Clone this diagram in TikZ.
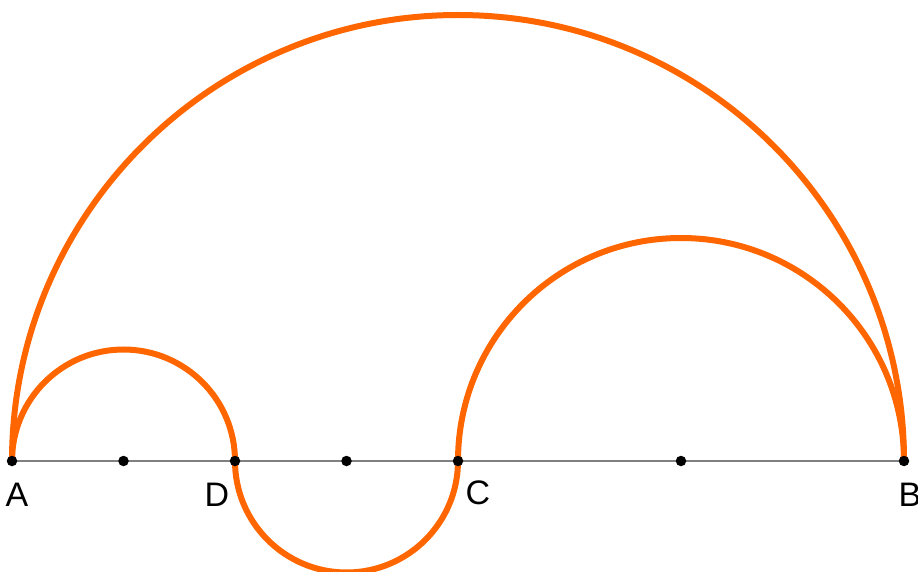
\documentclass[tikz,border=0pt]{standalone}
\usepackage{fontspec}
\setmainfont{Liberation Sans}
\definecolor{arcorange}{HTML}{FF6600}
\definecolor{linegray}{HTML}{808080}
\begin{document}
\begin{tikzpicture}[x=1pt,y=1pt,
  arcline/.style={draw=arcorange,line width=6pt},
  baseline/.style={draw=linegray,line width=2pt},
  ptdot/.style={circle,fill=black,inner sep=0pt,minimum size=10.5pt},
  lbl/.style={font=\fontsize{34}{34}\selectfont,inner sep=0pt}]
\useasboundingbox (0,0) rectangle (918,571);
\coordinate (A) at (12,110);
\coordinate (M1) at (123.5,110);
\coordinate (D) at (235,110);
\coordinate (M2) at (346.5,110);
\coordinate (C) at (458,110);
\coordinate (M3) at (681,110);
\coordinate (B) at (904,110);
\draw[baseline] (A) -- (B);
\draw[arcline] (A) arc[start angle=180,end angle=0,radius=446];
\draw[arcline] (A) arc[start angle=180,end angle=0,radius=111.5];
\draw[arcline] (D) arc[start angle=180,end angle=360,radius=111.5];
\draw[arcline] (C) arc[start angle=180,end angle=0,radius=223];
\foreach \p in {A,M1,D,M2,C,M3,B} \node[ptdot] at (\p) {};
\node[lbl] (lA) at (17,76) {A};
\node[lbl] (lD) at (217,76) {D};
\node[lbl] (lC) at (478,78) {C};
\node[lbl] (lB) at (910,76) {B};
\end{tikzpicture}
\end{document}
